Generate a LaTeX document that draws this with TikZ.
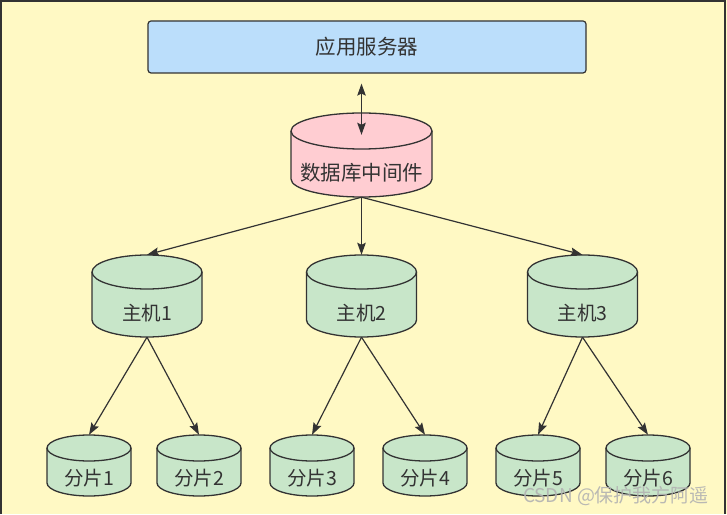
\documentclass[tikz,border=0pt]{standalone}
\usepackage{fontspec}
\setmainfont{Noto Sans CJK SC}
\usetikzlibrary{arrows.meta,calc}
\definecolor{bgc}{RGB}{255,249,196}
\definecolor{appc}{RGB}{187,222,251}
\definecolor{midc}{RGB}{255,205,210}
\definecolor{dbc}{RGB}{200,230,201}
\definecolor{ink}{RGB}{51,51,51}
\tikzset{
  cylline/.style={draw=ink, line width=1.3pt},
  cyltext/.style={text=ink, inner sep=0pt, font=\fontsize{19.5}{19.5}\selectfont},
  tip/.style={Stealth[length=12pt,width=8.5pt,inset=2pt]},
  conn/.style={draw=ink, line width=1.2pt, -{Stealth[length=12pt,width=8.5pt,inset=2pt]}},
}
\newcommand\dbcyl[8]{%
  \pgfmathsetmacro\cyX{#2}%
  \pgfmathsetmacro\cyT{514-#3}%
  \pgfmathsetmacro\cyB{514-#3-#5}%
  \pgfmathsetmacro\cyW{#4/2}%
  \pgfmathsetmacro\cyR{#6}%
  \filldraw[cylline, fill=#7] (\cyX-\cyW,\cyT-\cyR) -- (\cyX-\cyW,\cyB+\cyR)
    arc[start angle=180,end angle=360,x radius=\cyW pt,y radius=\cyR pt]
    -- (\cyX+\cyW,\cyT-\cyR)
    arc[start angle=0,end angle=180,x radius=\cyW pt,y radius=\cyR pt] -- cycle;
  \draw[cylline] (\cyX-\cyW,\cyT-\cyR)
    arc[start angle=180,end angle=360,x radius=\cyW pt,y radius=\cyR pt];
  \node[inner sep=0pt, minimum width=#4 pt, minimum height=#5 pt] (#1) at (\cyX,{(\cyT+\cyB)/2}) {};
  \node[cyltext] (#1-t) at (\cyX,{(\cyT-2*\cyR+\cyB)/2}) {#8};
}
\begin{document}
\begin{tikzpicture}[x=1pt,y=1pt]
\useasboundingbox (0,0) rectangle (727,514);
\fill[bgc] (0,0) rectangle (727,514);
\draw[ink, line width=2pt] (1,0) -- (1,513) -- (725,513) -- (725,0);

\node[draw=ink, line width=1.2pt, rounded corners=3pt, fill=appc, minimum width=438pt, minimum height=52pt,
      text=ink, font=\fontsize{20.5}{20.5}\selectfont] (app) at (367,467) {应用服务器};

\dbcyl{mid}{361.5}{113}{141}{84}{18}{midc}{\fontsize{20.5}{20.5}\selectfont 数据库中间件}

\dbcyl{h1}{147}{255}{110}{82}{17}{dbc}{主机1}
\dbcyl{h2}{361.5}{255}{110}{82}{17}{dbc}{主机2}
\dbcyl{h3}{582.5}{255}{110}{82}{17}{dbc}{主机3}

\dbcyl{s1}{89}{435}{84}{61}{13}{dbc}{分片1}
\dbcyl{s2}{199}{435}{84}{61}{13}{dbc}{分片2}
\dbcyl{s3}{312}{435}{84}{61}{13}{dbc}{分片3}
\dbcyl{s4}{425}{435}{84}{61}{13}{dbc}{分片4}
\dbcyl{s5}{538}{435}{84}{61}{13}{dbc}{分片5}
\dbcyl{s6}{648}{435}{84}{61}{13}{dbc}{分片6}

\draw[draw=ink, line width=1.2pt, {Stealth[length=12pt,width=8.5pt,inset=2pt]}-{Stealth[length=12pt,width=8.5pt,inset=2pt]}]
  ($(mid.north |- app.south)+(0,-10)$) -- ($(mid.north)+(0,-22)$);

\draw[conn] (mid.south) -- (h1.north);
\draw[conn] (mid.south) -- (h2.north);
\draw[conn] (mid.south) -- (h3.north);

\draw[conn] (h1.south) -- (s1.north);
\draw[conn] (h1.south) -- (s2.north);
\draw[conn] (h2.south) -- (s3.north);
\draw[conn] (h2.south) -- (s4.north);
\draw[conn] (h3.south) -- (s5.north);
\draw[conn] (h3.south) -- (s6.north);

\node[text=gray!60, opacity=0.9, inner sep=0pt, font=\fontsize{19}{19}\selectfont] (wm) at (616,18) {CSDN @保护我方阿遥};
\end{tikzpicture}
\end{document}
